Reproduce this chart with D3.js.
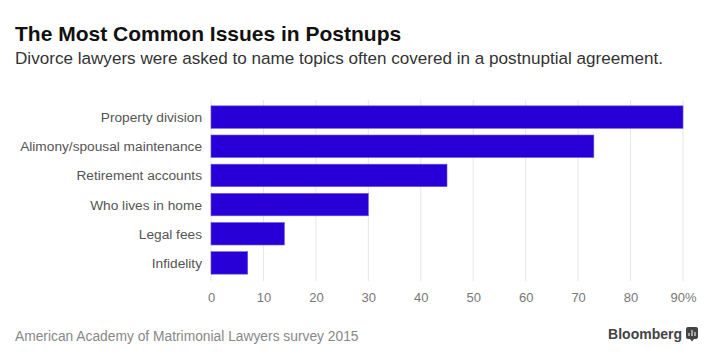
<!DOCTYPE html>
<html>
<head>
<meta charset="utf-8">
<script src="https://cdn.jsdelivr.net/npm/d3@7"></script>
<style>
  body { margin: 0; background: #fff; }
  svg { font-family: "Liberation Sans", Arial, sans-serif; }
</style>
</head>
<body>
<svg id="chart" width="724" height="362"></svg>
<script>
const categories = ["Property division", "Alimony/spousal maintenance", "Retirement accounts",
    "Who lives in home", "Legal fees", "Infidelity"];
const values = [90, 73, 45, 30, 14, 7];
const tickValues = [0, 10, 20, 30, 40, 50, 60, 70, 80, 90];

const svg = d3.select("#chart");

// title block
svg.append("text")
    .attr("x", 15).attr("y", 41)
    .style("font-size", "21px").style("font-weight", "bold").style("fill", "#111")
    .text("The Most Common Issues in Postnups");

svg.append("text")
    .attr("x", 15).attr("y", 64)
    .style("font-size", "17.1px").style("fill", "#333")
    .text("Divorce lawyers were asked to name topics often covered in a postnuptial agreement.");

const x = d3.scaleLinear().domain([0, 90]).range([211, 683]);

const y = d3.scaleBand()
    .domain(categories)
    .range([102.5, 277.5])
    .paddingInner(0.23)
    .paddingOuter(0.115);

// gridlines
svg.append("g")
    .selectAll("line")
    .data(tickValues)
    .enter()
    .append("line")
    .attr("x1", d => x(d)).attr("x2", d => x(d))
    .attr("y1", 100).attr("y2", 281)
    .attr("stroke", "#e6e6e6")
    .attr("stroke-width", 1);

// bars
svg.append("g")
    .selectAll("rect")
    .data(values)
    .enter()
    .append("rect")
    .attr("x", x(0))
    .attr("y", (d, i) => y(categories[i]))
    .attr("width", d => x(d) - x(0))
    .attr("height", y.bandwidth())
    .attr("fill", "#2800d7")
    .attr("stroke", "#6a55e6")
    .attr("stroke-width", 0.6);

// category labels
svg.append("g")
    .selectAll("text")
    .data(categories)
    .enter()
    .append("text")
    .attr("x", 202)
    .attr("y", d => y(d) + y.bandwidth() / 2 + 5)
    .attr("text-anchor", "end")
    .style("font-size", "13.7px")
    .style("fill", "#555")
    .text(d => d);

// x axis
const xAxis = svg.append("g")
    .attr("transform", "translate(0, 281)")
    .call(d3.axisBottom(x).tickValues(tickValues).tickSize(0).tickPadding(0)
        .tickFormat(d => d === 90 ? d + "%" : d));

xAxis.select(".domain").remove();
xAxis.selectAll("text")
    .attr("y", 21)
    .attr("dy", 0)
    .style("font-family", "\"Liberation Sans\", Arial, sans-serif")
    .style("font-size", "13px")
    .style("fill", "#777");

// footer
svg.append("text")
    .attr("x", 15).attr("y", 341)
    .style("font-size", "13.8px").style("fill", "#888")
    .text("American Academy of Matrimonial Lawyers survey 2015");

svg.append("text")
    .attr("x", 682).attr("y", 339)
    .attr("text-anchor", "end")
    .style("font-size", "14px").style("font-weight", "bold").style("fill", "#444")
    .text("Bloomberg");

const logo = svg.append("g").attr("transform", "translate(686, 327)");
logo.append("rect")
    .attr("width", 12).attr("height", 12).attr("rx", 2)
    .attr("fill", "#444");
logo.append("path")
    .attr("d", "M3,9 L3,6 M6,9 L6,3 M9,9 L9,5")
    .attr("stroke", "#ccc").attr("stroke-width", 1.4);
logo.append("path")
    .attr("d", "M4,12 L6,14.5 L8,12 Z")
    .attr("fill", "#444");
</script>
</body>
</html>
